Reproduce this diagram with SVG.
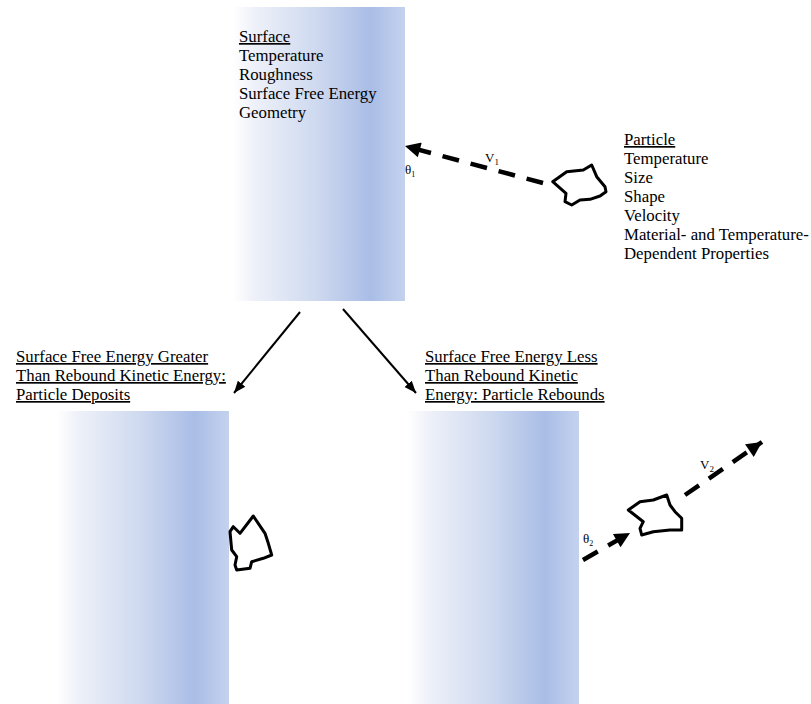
<svg xmlns="http://www.w3.org/2000/svg" width="811" height="704" viewBox="0 0 811 704">
<defs>
<linearGradient id="g" x1="0" y1="0" x2="1" y2="0">
<stop offset="0" stop-color="#ffffff"/>
<stop offset="0.12" stop-color="#eef1f9"/>
<stop offset="0.5" stop-color="#cdd8ef"/>
<stop offset="0.8" stop-color="#a9bde6"/>
<stop offset="1" stop-color="#c4d2ee"/>
</linearGradient>
<marker id="ah" viewBox="0 0 10 10" refX="10" refY="5" markerWidth="6" markerHeight="6" markerUnits="strokeWidth" orient="auto">
<path d="M0,1 L10,5 L0,9 Z" fill="#000"/>
</marker>
<marker id="dh" viewBox="0 0 10 10" refX="10" refY="5" markerWidth="4" markerHeight="3.4" markerUnits="strokeWidth" orient="auto">
<path d="M0,0 L10,5 L0,10 Z" fill="#000"/>
</marker>
</defs>
<style>
text{font-family:"Liberation Serif","Times New Roman",serif;fill:#000}
.t{font-size:16.8px}
.u{text-decoration:underline}
.s{font-size:13px}
.p{fill:none;stroke:#000;stroke-width:3;stroke-linejoin:round}
.a{stroke:#000;stroke-width:2;fill:none}
.d{stroke:#000;stroke-width:4.5;fill:none;stroke-dasharray:17 12}
</style>

<g id="surface">
<rect x="233" y="7" width="172" height="294" fill="url(#g)"/>
<text class="t" x="239"><tspan x="239" y="42" class="u">Surface</tspan><tspan x="239" y="61">Temperature</tspan><tspan x="239" y="80">Roughness</tspan><tspan x="239" y="99">Surface Free Energy</tspan><tspan x="239" y="118">Geometry</tspan></text>
</g>

<g id="particle">
<path class="p" d="M552.7,181.7 L566.7,171.7 L583.3,170 L591.7,165 L596.7,176.7 L605,186.7 L606,191.7 L600,196 L590,199.3 L580,200 L571.7,205 L565,201.7 L566,193.3 Z"/>
<text class="t"><tspan x="624" y="145" class="u">Particle</tspan><tspan x="624" y="164">Temperature</tspan><tspan x="624" y="183">Size</tspan><tspan x="624" y="202">Shape</tspan><tspan x="624" y="221">Velocity</tspan><tspan x="624" y="240">Material- and Temperature-</tspan><tspan x="624" y="259">Dependent Properties</tspan></text>
<text class="s" x="485" y="162">V<tspan font-size="9" dy="3">1</tspan></text>
<text class="s" x="405" y="174" font-size="12">θ<tspan font-size="8" dy="3">1</tspan></text>
</g>

<g id="deposit">
<text class="t u"><tspan x="16" y="362">Surface Free Energy Greater</tspan><tspan x="16" y="381">Than Rebound Kinetic Energy:</tspan><tspan x="16" y="400">Particle Deposits</tspan></text>
<rect x="57" y="411" width="172" height="293" fill="url(#g)"/>
<path class="p" d="M230,531.7 L233.3,526.7 L240,533.3 L253.3,516 L265,533.3 L268.3,543.3 L271.7,555 L263.3,558.3 L251.7,561.7 L250,568.3 L236.7,570 L235,565 L236.7,556.7 L231.7,550 Z"/>
</g>

<g id="rebound">
<text class="t u"><tspan x="425" y="362">Surface Free Energy Less</tspan><tspan x="425" y="381">Than Rebound Kinetic</tspan><tspan x="425" y="400">Energy: Particle Rebounds</tspan></text>
<rect x="408" y="411" width="171" height="293" fill="url(#g)"/>
<path class="p" d="M628.3,510 L640,501.7 L653.3,500 L666.7,495 L670,505 L675,511.7 L681.7,518.3 L681.7,530 L670,530 L653.3,531.7 L641.7,535 L640,528.3 L643.3,521.7 Z"/>
<text class="s" x="583" y="543" font-size="12">θ<tspan font-size="8" dy="3">2</tspan></text>
<text class="s" x="700" y="469">V<tspan font-size="9" dy="3">2</tspan></text>
</g>

<g id="connectors">
<path class="a" d="M300,312 L234,393" marker-end="url(#ah)"/>
<path class="a" d="M343,309 L416,393" marker-end="url(#ah)"/>
<path class="d" d="M543,183 L405,146" marker-end="url(#dh)"/>
<path class="d" d="M583,560 L630,533" marker-end="url(#dh)"/>
<path class="d" d="M685,495 L762,442" marker-end="url(#dh)"/>
</g>
</svg>
